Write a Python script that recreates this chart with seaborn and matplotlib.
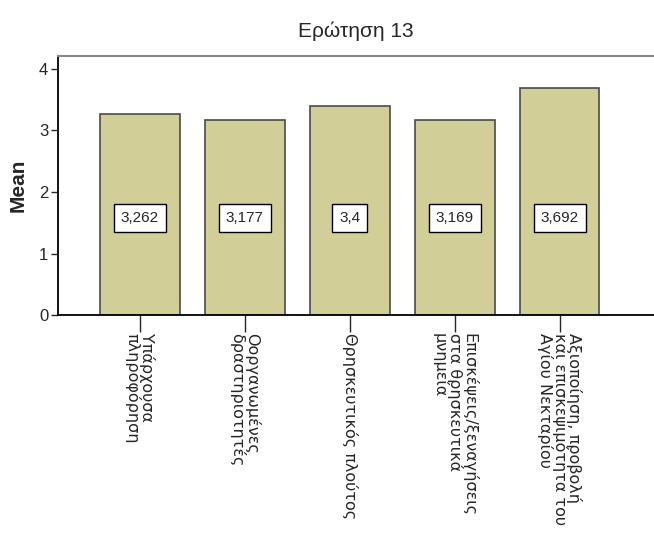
import matplotlib
matplotlib.use("Agg")
import matplotlib.pyplot as plt
import seaborn as sns
import pandas as pd

# Δεδομένα
categories = [
    "Υπάρχουσα\nπληροφόρηση",
    "Οοργανωμένες\nδραστηριοτητές",
    "Θρησκευτικός πλούτος",
    "Επισκέψεις/ξεναγήσεις\nστα θρησκευτικά\nμνημεία",
    "Αξιοποίηση, προβολή\nκαι επισκεψιμότητα του\nΑγίου Νεκταρίου",
]
means = [3.262, 3.177, 3.4, 3.169, 3.692]
value_labels = ["3,262", "3,177", "3,4", "3,169", "3,692"]

df = pd.DataFrame({"cat": categories, "mean": means})

sns.set_style("white")
plt.rcParams['font.family'] = ['Liberation Sans', 'DejaVu Sans']

fig = plt.figure(figsize=(6.54, 5.36), dpi=100)
ax = fig.add_axes([0.0887, 0.412, 0.9113, 0.4835])

sns.barplot(data=df, x="cat", y="mean", color="#D2CE98", width=0.76,
            edgecolor="#4a4a4a", linewidth=1.2, saturation=1, ax=ax)

# rótulos de valor dentro das barras
for i, lab in enumerate(value_labels):
    ax.text(i, 1.58, lab, ha='center', va='center', fontsize=11,
            bbox=dict(facecolor='white', edgecolor='black', boxstyle='square,pad=0.45', linewidth=1))

ax.set_xlim(-0.78, 4.9)
ax.set_ylim(0, 4.21)
ax.set_yticks([0, 1, 2, 3, 4])
ax.tick_params(axis='y', labelsize=12, length=5, width=1, direction='out', left=True, pad=2)
ax.tick_params(axis='x', length=12, width=1, direction='out', bottom=True, pad=1)
ax.set_xticks(range(len(categories)))
ax.set_xticklabels(categories, rotation=-90, fontsize=11.5, family=['DejaVu Sans'],
                   rotation_mode='anchor', linespacing=0.9)
for lbl in ax.get_xticklabels():
    lbl.set_ha('left')
    lbl.set_va('center')

ax.set_xlabel("")
ax.set_ylabel("Mean", fontsize=15, fontweight='bold', labelpad=8)
ax.set_title("Ερώτηση 13", fontsize=15, pad=14)

for s in ['left', 'bottom']:
    ax.spines[s].set_color('black')
    ax.spines[s].set_linewidth(1.3)
ax.spines['top'].set_color('#888888')
ax.spines['top'].set_linewidth(1.5)
ax.spines['right'].set_visible(False)

fig.savefig("out.png", dpi=100)
